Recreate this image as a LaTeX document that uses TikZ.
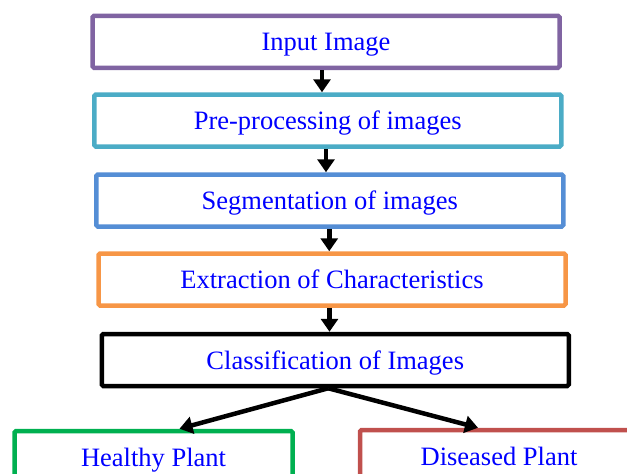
\documentclass[tikz,border=0pt]{standalone}
\usepackage{fontspec}
\setmainfont{Liberation Serif}
\usepackage{xcolor}
\usetikzlibrary{arrows.meta}

\definecolor{stepPurple}{HTML}{8064A2}
\definecolor{stepTeal}{HTML}{4BACC6}
\definecolor{stepBlue}{HTML}{558ED5}
\definecolor{stepOrange}{HTML}{F79646}
\definecolor{stepGreen}{HTML}{00B050}
\definecolor{stepRed}{HTML}{C0504D}
\definecolor{labelBlue}{HTML}{0000FF}

\begin{document}
\begin{tikzpicture}[x=1pt, y=-1pt,
  box/.style={rectangle, draw, line width=4.5pt, rounded corners=1.5pt, minimum width=467pt, minimum height=52pt, inner sep=0pt, text height=18pt, text depth=0pt, text=labelBlue, font=\fontsize{26.5}{30}\selectfont},
  outbox/.style={box, minimum width=278pt},
  flow/.style={draw=black, line width=4.5pt, -{Triangle[length=13pt, width=17pt]}}]

\clip (0,0) rectangle (627,474);

% Pipeline
\node[box, draw=stepPurple] (b1) at (326,41.75) {Input Image};
\node[box, draw=stepTeal] (b2) at (327.75,120.5) {Pre-processing of images};
\node[box, draw=stepBlue] (b3) at (329.75,200.5) {Segmentation of images};
\node[box, draw=stepOrange] (b4) at (332,279.5) {Extraction of Characteristics};
\node[box, draw=black] (b5) at (335.25,360) {Classification of Images};

% Outcomes
\node[outbox, draw=stepGreen] (hp) at (153.5,457) {Healthy Plant};
\node[outbox, draw=stepRed] (dp) at (499,456) {Diseased Plant};

% Arrows
\draw[flow] ([xshift=-4pt]b1.south) -- ([xshift=-4pt]b1.south |- b2.north);
\draw[flow] ([xshift=-1.75pt]b2.south) -- ([xshift=-1.75pt]b2.south |- b3.north);
\draw[flow] ([xshift=-0.5pt]b3.south) -- ([xshift=-0.5pt]b3.south |- b4.north);
\draw[flow] ([xshift=-2.5pt]b4.south) -- ([xshift=-2.5pt]b4.south |- b5.north);
\draw[flow] ([xshift=-7pt]b5.south) -- ([xshift=26pt]hp.north);
\draw[flow] ([xshift=-7pt]b5.south) -- ([xshift=-21pt]dp.north);

\end{tikzpicture}
\end{document}
